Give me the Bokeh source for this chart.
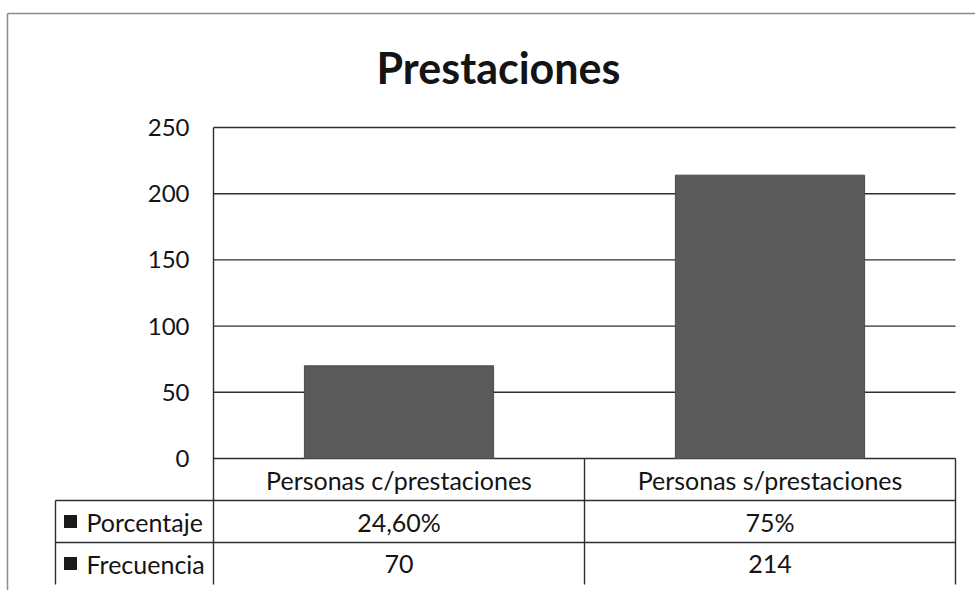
from bokeh.plotting import figure
from bokeh.models import Range1d
from bokeh.embed import file_html
from bokeh.resources import INLINE
from bokeh.core.properties import value

# ---- data ----
title_text = "Prestaciones"
categories = ["Personas c/prestaciones", "Personas s/prestaciones"]
frecuencia = [70, 214]
porcentaje = ["24,60%", "75%"]
row_labels = ["Porcentaje", "Frecuencia"]
y_ticks = [0, 50, 100, 150, 200, 250]

FONT = "Lato"
LINE = "#2e2e2e"
BAR = "#5a5a5a"
TXT = "#141414"

W, H = 975, 590
# pixel anchors of the plotting area (x: category 0..n, y: value axis)
X0, X1 = 213, 955          # left/right of bar area
Y0, Y1 = 458, 127          # value 0 and value 250
n = len(categories)
XPU = (X1 - X0) / n
YPU = (Y0 - Y1) / (y_ticks[-1] - y_ticks[0])


def dx(px):
    return (px - X0) / XPU


def dy(py):
    return (Y0 - py) / YPU


p = figure(width=W, height=H,
           x_range=Range1d(dx(0), dx(W)), y_range=Range1d(dy(H), dy(0)),
           x_axis_location=None, y_axis_location=None,
           output_backend="svg", toolbar_location=None,
           min_border=0)
p.outline_line_color = None
p.xgrid.visible = False
p.ygrid.visible = False
p.background_fill_color = "white"

# outer chart border
p.segment(x0=[dx(7), dx(7)], y0=[dy(13), dy(13)], x1=[dx(W + 5), dx(7)], y1=[dy(13), dy(H + 5)],
          line_color="#8c8c8c", line_width=1.5)

# title
p.text(x=[dx(498)], y=[dy(67)], text=[title_text], text_font=value(FONT),
       text_font_size="43px", text_font_style="bold", text_color=TXT,
       text_align="center", text_baseline="middle")

# horizontal gridlines
p.segment(x0=[0] * len(y_ticks), x1=[n] * len(y_ticks), y0=y_ticks, y1=y_ticks,
          line_color=LINE, line_width=1.4)

# y tick labels
p.text(x=[dx(189)] * len(y_ticks), y=y_ticks, text=[str(t) for t in y_ticks],
       text_font=value(FONT), text_font_size="24px", text_color=TXT,
       text_align="right", text_baseline="middle")

# bars
xc = [i + 0.5 for i in range(n)]
p.vbar(x=xc, top=frecuencia, bottom=0, width=0.51,
       fill_color=BAR, line_color="#4a4a4a", line_width=1)

# ---- data table ----
row_px = [458, 500, 542, 584]
row_y = [dy(v) for v in row_px]
lab_left = dx(55)
nrows = len(row_labels)

# horizontal rules of the table (label rows span the label column)
p.segment(x0=[lab_left] * nrows, x1=[n] * nrows, y0=row_y[1:], y1=row_y[1:],
          line_color=LINE, line_width=1.4)
# left edge of the label column
p.segment(x0=[lab_left], x1=[lab_left], y0=[row_y[-1]], y1=[row_y[1]],
          line_color=LINE, line_width=1.4)
# value axis line + table column rules
p.segment(x0=[0], x1=[0], y0=[row_y[-1]], y1=[y_ticks[-1]],
          line_color=LINE, line_width=1.4)
vx = list(range(1, n + 1))
p.segment(x0=vx, x1=vx, y0=[row_y[-1]] * len(vx), y1=[row_y[0]] * len(vx),
          line_color=LINE, line_width=1.4)

ymid = [(row_y[k] + row_y[k + 1]) / 2 for k in range(len(row_y) - 1)]
txt_kw = dict(text_font=value(FONT), text_font_size="25px", text_color=TXT,
              text_align="center", text_baseline="middle")
p.text(x=xc, y=[ymid[0]] * n, text=categories, **txt_kw)
p.text(x=xc, y=[ymid[1]] * n, text=porcentaje, **txt_kw)
p.text(x=xc, y=[ymid[2]] * n, text=[str(v) for v in frecuencia], **txt_kw)

p.scatter(x=[dx(70)] * nrows, y=ymid[1:], marker="square", size=13,
          fill_color="#1a1a1a", line_color=None)
p.text(x=[dx(86)] * nrows, y=ymid[1:], text=row_labels,
       text_font=value(FONT), text_font_size="25px", text_color=TXT,
       text_align="left", text_baseline="middle")

open("out.html", "w").write(file_html(p, INLINE))
